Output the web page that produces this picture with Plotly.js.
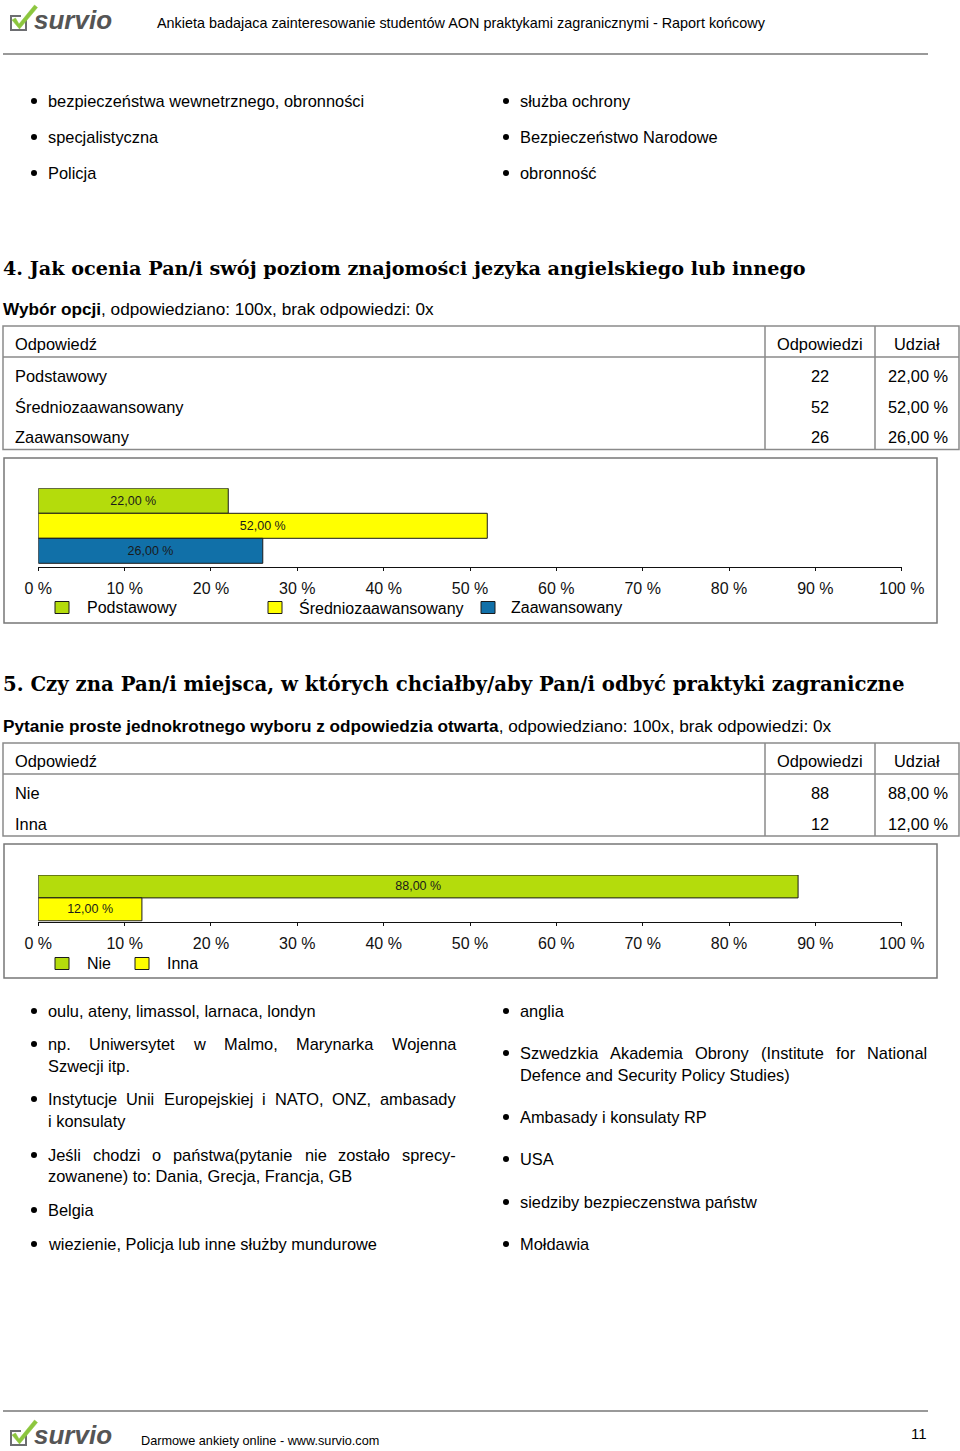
<!DOCTYPE html>
<html><head><meta charset="utf-8">
<script src="https://cdn.plot.ly/plotly-3.0.1.min.js"></script>
<style>html,body{margin:0;padding:0;background:#fff}#page{width:960px;height:1451px}</style>
</head><body><div id="page"></div>
<script>
// ---------------- DATA ----------------
const reportTitle = 'Ankieta badajaca zainteresowanie studentów AON praktykami zagranicznymi - Raport końcowy';
const footerText = 'Darmowe ankiety online - www.survio.com';
const pageNumber = '11';
const brandName = 'survio';

const topListLeft = ['bezpieczeństwa wewnetrznego, obronności', 'specjalistyczna', 'Policja'];
const topListRight = ['służba ochrony', 'Bezpieczeństwo Narodowe', 'obronność'];

const tableHeaders = ['Odpowiedź', 'Odpowiedzi', 'Udział'];
const axisTicks = [0, 10, 20, 30, 40, 50, 60, 70, 80, 90, 100];

const q4Title = '4. Jak ocenia Pan/i swój poziom znajomości jezyka angielskiego lub innego';
const q4Type = 'Wybór opcji';
const q4Stats = ', odpowiedziano: 100x, brak odpowiedzi: 0x';
const q4Categories = ['Podstawowy', 'Średniozaawansowany', 'Zaawansowany'];
const q4Counts = [22, 52, 26];
const q4Shares = [22, 52, 26];

const q5Title = '5. Czy zna Pan/i miejsca, w których chciałby/aby Pan/i odbyć praktyki zagraniczne';
const q5Type = 'Pytanie proste jednokrotnego wyboru z odpowiedzia otwarta';
const q5Stats = ', odpowiedziano: 100x, brak odpowiedzi: 0x';
const q5Categories = ['Nie', 'Inna'];
const q5Counts = [88, 12];
const q5Shares = [88, 12];

const q5OtherLeft = [
  ['oulu, ateny, limassol, larnaca, londyn'],
  ['np. Uniwersytet w Malmo, Marynarka Wojenna', 'Szwecji itp.'],
  ['Instytucje Unii Europejskiej i NATO, ONZ, ambasady', 'i konsulaty'],
  ['Jeśli chodzi o państwa(pytanie nie zostało sprecy-', 'zowanene) to: Dania, Grecja, Francja, GB'],
  ['Belgia'],
  ['wiezienie, Policja lub inne służby mundurowe']
];
const q5OtherRight = [
  ['anglia'],
  ['Szwedzkia Akademia Obrony (Institute for National', 'Defence and Security Policy Studies)'],
  ['Ambasady i konsulaty RP'],
  ['USA'],
  ['siedziby bezpieczenstwa państw'],
  ['Mołdawia']
];

// ---------------- STYLE / LAYOUT ----------------
const W = 960, H = 1451;
const px = x => x / W;
const py = y => 1 - y / H;
const BODY = '"Liberation Sans", Arial, sans-serif';
const BODY_SIZE = 16.4;
const SERIF = '"DejaVu Serif", serif';
const CHART_FONT = '"Liberation Sans", Arial, sans-serif';
const COLORS = ['#b4dc0c', '#ffff00', '#1170a8'];
const BAR_LINE = '#1a1a1a';
const RULE = '#777777';

const annotations = [];
const shapes = [];

function txt(text, x, y, o = {}) {
  annotations.push({
    text: text, x: px(x), y: py(y), xref: 'paper', yref: 'paper',
    xanchor: o.anchor || 'left', yanchor: 'middle', showarrow: false,
    borderpad: 0, borderwidth: 0,
    font: Object.assign({family: o.family || BODY, size: o.size || BODY_SIZE, color: o.color || '#000'},
      o.weight ? {weight: o.weight} : {}, o.style ? {style: o.style} : {})
  });
}
function line(x0, y0, x1, y1, color, width) {
  shapes.push({type: 'line', xref: 'paper', yref: 'paper', x0: px(x0), y0: py(y0), x1: px(x1), y1: py(y1),
    line: {color: color, width: width}});
}
function rect(x0, y0, x1, y1, fill, lineColor, width) {
  shapes.push({type: 'rect', xref: 'paper', yref: 'paper', x0: px(x0), y0: py(y0), x1: px(x1), y1: py(y1),
    fillcolor: fill || 'rgba(0,0,0,0)', line: {color: lineColor, width: width}});
}
function bullet(x, y) {
  shapes.push({type: 'circle', xref: 'paper', yref: 'paper', x0: px(x - 3), y0: py(y + 3), x1: px(x + 3), y1: py(y - 3),
    fillcolor: '#000', line: {width: 0}});
}
function pathShape(points, fill, lineColor, width, close) {
  const d = points.map((p, i) => (i ? 'L' : 'M') + px(p[0]) + ',' + py(p[1])).join(' ') + (close ? ' Z' : '');
  shapes.push({type: 'path', xref: 'paper', yref: 'paper', path: d,
    fillcolor: fill || 'rgba(0,0,0,0)', line: {color: lineColor || 'rgba(0,0,0,0)', width: width || 0}});
}

const canvas = document.createElement('canvas');
const ctx = canvas.getContext('2d');
function measure(t, size) { ctx.font = size + 'px "Liberation Sans"'; return ctx.measureText(t).width; }
function justified(lineText, x0, x1, y) {
  const words = lineText.split(' ');
  const total = words.reduce((s, w) => s + measure(w, BODY_SIZE), 0);
  const gap = (x1 - x0 - total) / (words.length - 1);
  let x = x0;
  words.forEach(w => { txt(w, x, y); x += measure(w, BODY_SIZE) + gap; });
}

function logo(dy) {
  pathShape([[26, 19 + dy], [26, 30 + dy], [11, 30 + dy], [11, 16 + dy], [21, 16 + dy]], null, '#6d6e71', 2, false);
  pathShape([[12, 20 + dy], [15.5, 18 + dy], [19, 24 + dy], [34.5, 5 + dy], [37.5, 7.5 + dy], [19.5, 29 + dy]], '#8cc63e', '#8cc63e', 0.5, true);
  txt(brandName, 34, 20 + dy, {family: '"Liberation Sans", Arial', size: 26, color: '#555555', weight: 'bold', style: 'italic'});
}

// Header
logo(0);
txt(reportTitle, 157, 23, {size: 14.4});
line(3, 54, 928, 54, RULE, 1.5);

// Top list
const topRows = [101, 137, 173];
topListLeft.forEach((t, i) => { bullet(34, topRows[i]); txt(t, 48, topRows[i]); });
topListRight.forEach((t, i) => { bullet(506, topRows[i]); txt(t, 520, topRows[i]); });

// Question headings
txt(q4Title, 3, 268, {family: SERIF, size: 19.2, weight: 'bold'});
txt('<b>' + q4Type + '</b>' + q4Stats, 3, 309, {size: 17.2});
txt(q5Title, 3, 685, {family: SERIF, size: 19.7, weight: 'bold'});
txt('<b>' + q5Type + '</b>' + q5Stats, 3, 726, {size: 17.2});

// Tables
const fmtPct = v => v.toFixed(2).replace('.', ',') + ' %';
function table(top, cats, counts, shares) {
  const headY = top + 18;
  const sep = top + 31;
  const bottom = sep + cats.length * 30.5 + 1;
  rect(3, top, 959, bottom, null, '#8a8a8a', 1.5);
  line(3, sep, 959, sep, '#8a8a8a', 1.5);
  line(765, top, 765, bottom, '#8a8a8a', 1.5);
  line(875, top, 875, bottom, '#8a8a8a', 1.5);
  txt(tableHeaders[0], 15, headY);
  txt(tableHeaders[1], 820, headY, {anchor: 'center'});
  txt(tableHeaders[2], 917, headY, {anchor: 'center'});
  cats.forEach((c, i) => {
    const y = sep + 19 + i * 30.7;
    txt(c, 15, y);
    txt(String(counts[i]), 820, y, {anchor: 'center'});
    txt(fmtPct(shares[i]), 948, y, {anchor: 'right'});
  });
}
table(326, q4Categories, q4Counts, q4Shares);
table(743, q5Categories, q5Counts, q5Shares);

// Chart frames
rect(4, 458, 937, 623, null, RULE, 1.5);
rect(4, 844, 937, 978, null, RULE, 1.5);

// Manual legends
function legend(items, colors, squareXs, textXs, y) {
  items.forEach((name, i) => {
    rect(squareXs[i], y - 6, squareXs[i] + 14, y + 6, colors[i], BAR_LINE, 1);
    txt(name, textXs[i], y, {family: CHART_FONT, size: 16});
  });
}
legend(q4Categories, COLORS, [55, 268, 481], [87, 299, 511], 607.5);
legend(q5Categories, COLORS, [55, 135], [87, 167], 963.5);

// Bottom lists
function list(items, bx, tx, rightEdge, ys) {
  items.forEach((lines, i) => {
    bullet(bx, ys[i][0]);
    lines.forEach((l, j) => {
      if (j < lines.length - 1) justified(l, tx, rightEdge, ys[i][j]);
      else txt(l, tx, ys[i][j]);
    });
  });
}
list(q5OtherLeft, 34, 48, 456, [[1011], [1044, 1066], [1099, 1121], [1155, 1176], [1210], [1244]]);
list(q5OtherRight, 506, 520, 927, [[1011], [1053, 1075], [1117], [1159], [1202], [1244]]);

// Footer
line(3, 1411, 928, 1411, RULE, 1.5);
logo(1415);
txt(footerText, 141, 1441, {size: 12.7});
txt(pageNumber, 927, 1433, {size: 15, anchor: 'right'});

// ---------------- CHARTS ----------------
function barTrace(cats, shares, xa, ya) {
  return {
    type: 'bar', orientation: 'h', x: shares, y: cats, xaxis: xa, yaxis: ya, width: 1,
    marker: {color: COLORS.slice(0, cats.length), line: {color: BAR_LINE, width: 1}},
    text: shares.map(fmtPct), textposition: 'inside', insidetextanchor: 'middle', constraintext: 'none',
    textangle: 0,
    textfont: {family: CHART_FONT, size: 12.5, color: '#1a1a1a'},
    insidetextfont: {family: CHART_FONT, size: 12.5, color: '#1a1a1a'},
    hoverinfo: 'skip', showlegend: false
  };
}
function xAxis(anchor) {
  return {
    domain: [px(38.3), px(901.7)], range: [0, 100], anchor: anchor, fixedrange: true,
    tickvals: axisTicks, ticktext: axisTicks.map(v => v + ' %'),
    ticks: 'outside', ticklen: 3, tickcolor: '#111', tickwidth: 1,
    showline: true, linecolor: '#111', linewidth: 1.2, showgrid: false, zeroline: false,
    tickfont: {family: CHART_FONT, size: 16, color: '#111'}, ticklabelstandoff: 4
  };
}
function yAxis(anchor, top, bottom, n, barH) {
  return {
    domain: [py(bottom), py(top)], anchor: anchor, type: 'category', fixedrange: true,
    range: [n - 0.5 + (bottom - top - n * barH) / barH, -0.5],
    showticklabels: false, showgrid: false, zeroline: false, showline: false, ticks: ''
  };
}

const data = [
  barTrace(q4Categories, q4Shares, 'x', 'y'),
  barTrace(q5Categories, q5Shares, 'x2', 'y2')
];

const layout = {
  width: W, height: H, margin: {l: 0, r: 0, t: 0, b: 0}, autosize: false,
  paper_bgcolor: '#ffffff', plot_bgcolor: 'rgba(0,0,0,0)', showlegend: false,
  bargap: 0, barmode: 'group',
  xaxis: xAxis('y'), yaxis: yAxis('x', 488.3, 566.7, 3, 25),
  xaxis2: xAxis('y2'), yaxis2: yAxis('x2', 875, 921.7, 2, 22.9),
  annotations: annotations, shapes: shapes
};

Plotly.newPlot('page', data, layout, {staticPlot: true, displayModeBar: false});
</script>
</body></html>
